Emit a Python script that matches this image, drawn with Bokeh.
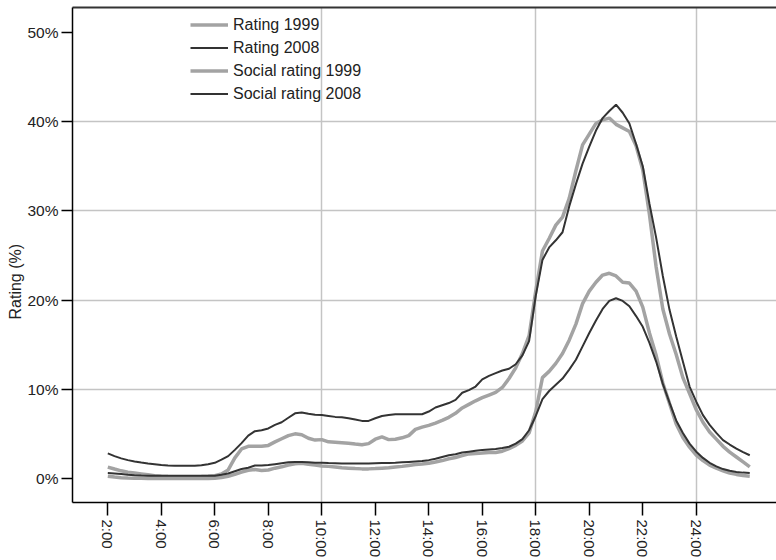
import numpy as np
from math import pi

from bokeh.plotting import figure
from bokeh.models import (Range1d, FixedTicker, LinearAxis, Legend, LegendItem,
                          Title, ColumnDataSource)
from bokeh.embed import file_html
from bokeh.resources import INLINE

# Quarter-hour sampling from 2:00 to 26:00 (2:00 next morning)
hours = np.arange(2.0, 26.0 + 0.001, 0.25)

rating_1999 = [
    1.27, 1.05, 0.85, 0.7, 0.6, 0.5, 0.4, 0.3,
    0.25, 0.22, 0.2, 0.2, 0.2, 0.2, 0.22, 0.25,
    0.3, 0.5, 0.95, 2.3, 3.3, 3.6, 3.6, 3.6,
    3.7, 4.1, 4.45, 4.8, 5.0, 4.9, 4.5, 4.3,
    4.35, 4.1, 4.05, 4.0, 3.95, 3.85, 3.78, 3.9,
    4.4, 4.65, 4.35, 4.4, 4.55, 4.8, 5.5, 5.75,
    5.95, 6.2, 6.5, 6.85, 7.3, 7.9, 8.3, 8.7,
    9.05, 9.35, 9.65, 10.2, 11.2, 12.4, 14.0, 16.0,
    21.0, 25.5, 26.9, 28.4, 29.3, 31.4, 34.5, 37.4,
    38.6, 39.8, 40.2, 40.4, 39.7, 39.3, 38.9, 37.3,
    34.6, 29.6, 23.7, 19.0, 16.2, 13.9, 11.3, 9.5,
    7.7, 6.3, 5.2, 4.4, 3.6, 2.95, 2.4, 1.85,
    1.3,
]

rating_2008 = [
    2.8, 2.5, 2.25, 2.05, 1.9, 1.78, 1.68, 1.6,
    1.5, 1.45, 1.43, 1.42, 1.42, 1.42, 1.48, 1.6,
    1.75, 2.1, 2.5, 3.2, 3.96, 4.8, 5.3, 5.4,
    5.6, 6.0, 6.3, 6.8, 7.3, 7.4, 7.25, 7.15,
    7.1, 7.0, 6.9, 6.85, 6.75, 6.6, 6.45, 6.45,
    6.75, 7.0, 7.1, 7.2, 7.2, 7.2, 7.2, 7.2,
    7.5, 7.95, 8.2, 8.45, 8.8, 9.6, 9.9, 10.3,
    11.1, 11.5, 11.8, 12.1, 12.3, 12.8, 13.8, 15.4,
    20.5, 24.5, 25.9, 26.7, 27.6, 30.5, 33.0, 35.3,
    37.2, 39.0, 40.4, 41.2, 41.9, 41.0, 39.8, 37.5,
    35.0, 30.8, 27.0, 22.7, 18.9, 15.9, 13.1, 10.3,
    8.6, 7.1, 6.0, 5.1, 4.3, 3.8, 3.35, 2.95,
    2.6,
]

social_1999 = [
    0.25, 0.15, 0.08, 0.05, 0.03, 0.02, 0.0, 0.0,
    0.0, 0.0, 0.0, 0.0, 0.0, 0.0, 0.0, 0.0,
    0.02, 0.1, 0.25, 0.45, 0.7, 0.92, 1.0, 0.9,
    0.95, 1.15, 1.3, 1.5, 1.65, 1.7, 1.6, 1.5,
    1.4, 1.35, 1.28, 1.2, 1.15, 1.1, 1.07, 1.07,
    1.1, 1.15, 1.2, 1.28, 1.35, 1.45, 1.55, 1.62,
    1.7, 1.85, 2.0, 2.2, 2.35, 2.55, 2.75, 2.8,
    2.85, 2.9, 2.9, 3.05, 3.35, 3.7, 4.2, 5.1,
    7.5, 11.3, 12.0, 12.9, 14.0, 15.5, 17.3, 19.6,
    21.0, 22.0, 22.8, 23.0, 22.7, 22.0, 21.9, 21.0,
    19.2, 16.3, 13.8, 10.7, 8.4, 6.1, 4.6, 3.5,
    2.6, 2.0, 1.5, 1.15, 0.85, 0.6, 0.45, 0.33,
    0.25,
]

social_2008 = [
    0.6, 0.55, 0.5, 0.42, 0.36, 0.32, 0.3, 0.3,
    0.3, 0.3, 0.3, 0.3, 0.3, 0.3, 0.3, 0.3,
    0.3, 0.4, 0.55, 0.8, 1.05, 1.2, 1.45, 1.45,
    1.5, 1.6, 1.7, 1.8, 1.85, 1.85, 1.8, 1.75,
    1.75, 1.72, 1.7, 1.68, 1.66, 1.66, 1.66, 1.68,
    1.7, 1.72, 1.72, 1.75, 1.8, 1.85, 1.9, 1.95,
    2.05, 2.2, 2.4, 2.6, 2.7, 2.9, 3.0, 3.1,
    3.2, 3.25, 3.3, 3.4, 3.55, 3.9, 4.4, 5.4,
    7.0, 8.9, 9.8, 10.5, 11.2, 12.2, 13.3, 14.8,
    16.3, 17.7, 19.0, 19.9, 20.2, 19.9, 19.3, 18.2,
    17.0, 15.2, 13.1, 10.6, 8.5, 6.5, 5.1, 3.9,
    3.0, 2.3, 1.75, 1.35, 1.05, 0.85, 0.72, 0.65,
    0.6,
]

series_labels = ["Rating 1999", "Rating 2008", "Social rating 1999", "Social rating 2008"]

x_ticks = [2, 4, 6, 8, 10, 12, 14, 16, 18, 20, 22, 24]
x_tick_labels = ["2:00", "4:00", "6:00", "8:00", "10:00", "12:00",
                 "14:00", "16:00", "18:00", "20:00", "22:00", "24:00"]
x_grid_hours = [10, 18, 24]

y_ticks = [0, 10, 20, 30, 40, 50]
y_tick_labels = ["0%", "10%", "20%", "30%", "40%", "50%"]
y_grid_values = [10, 20, 30, 40]

FONT = "Liberation Sans"
LIGHT = "#a3a3a3"
DARK = "#333333"
TEXT = "#222222"

source = ColumnDataSource(dict(
    hours=hours,
    rating_1999=rating_1999,
    rating_2008=rating_2008,
    social_1999=social_1999,
    social_2008=social_2008,
))

p = figure(
    width=776, height=560,
    x_range=Range1d(0.68, 27.0),
    y_range=Range1d(-2.7, 52.8),
    output_backend="svg",
    toolbar_location=None,
    min_border_left=72, min_border_right=0,
    min_border_top=7, min_border_bottom=57,
    background_fill_color="white",
    border_fill_color="white",
)
p.outline_line_color = None

# Axes
for ax in (p.xaxis[0], p.yaxis[0]):
    ax.axis_line_color = "black"
    ax.axis_line_width = 1.5
    ax.major_tick_line_color = "black"
    ax.major_tick_line_width = 1.5
    ax.major_tick_in = 0
    ax.minor_tick_line_color = None
    ax.major_label_text_font = FONT
    ax.major_label_text_font_size = "15px"
    ax.major_label_text_color = TEXT
    ax.major_label_standoff = 4

p.xaxis.ticker = FixedTicker(ticks=x_ticks)
p.xaxis.major_label_overrides = {t: lab for t, lab in zip(x_ticks, x_tick_labels)}
p.xaxis.major_tick_out = 13
p.xaxis.major_label_orientation = -pi / 2

p.yaxis.ticker = FixedTicker(ticks=y_ticks)
p.yaxis.major_label_overrides = {t: lab for t, lab in zip(y_ticks, y_tick_labels)}
p.yaxis.major_tick_out = 11
p.yaxis.major_label_text_font_size = "15.5px"
p.yaxis.major_label_standoff = 3

# Top frame edge
top_axis = LinearAxis(ticker=FixedTicker(ticks=[]), major_tick_out=0, major_tick_in=0,
                      minor_tick_line_color=None, major_label_text_font_size="0px",
                      axis_line_color="#333333", axis_line_width=2)
p.add_layout(top_axis, "above")

# Grid
p.xgrid.ticker = FixedTicker(ticks=x_grid_hours)
p.ygrid.ticker = FixedTicker(ticks=y_grid_values)
for g in (p.xgrid[0], p.ygrid[0]):
    g.grid_line_color = "#c4c4c4"
    g.grid_line_width = 1.5

# Lines: light 1999 series under dark 2008 series
r_r99 = p.line("hours", "rating_1999", source=source, line_color=LIGHT, line_width=3.5)
r_s99 = p.line("hours", "social_1999", source=source, line_color=LIGHT, line_width=3.5)
r_r08 = p.line("hours", "rating_2008", source=source, line_color=DARK, line_width=2)
r_s08 = p.line("hours", "social_2008", source=source, line_color=DARK, line_width=2)

legend = Legend(
    items=[LegendItem(label=series_labels[0], renderers=[r_r99]),
           LegendItem(label=series_labels[1], renderers=[r_r08]),
           LegendItem(label=series_labels[2], renderers=[r_s99]),
           LegendItem(label=series_labels[3], renderers=[r_s08])],
    location=(118, 398),
    orientation="vertical",
    background_fill_alpha=0, border_line_alpha=0,
    padding=0, margin=0, spacing=2,
    glyph_width=38, glyph_height=21, label_height=21, label_standoff=5,
    label_text_font=FONT, label_text_font_size="16px", label_text_color=TEXT,
)
p.add_layout(legend)

# Y axis title, anchored from the bottom of the frame so it sits at mid page height
p.add_layout(Title(text="Rating (%)", align="left", offset=183, standoff=2,
                   text_font=FONT, text_font_size="16px", text_font_style="normal",
                   text_color=TEXT), "left")

open("out.html", "w").write(file_html(p, INLINE))
